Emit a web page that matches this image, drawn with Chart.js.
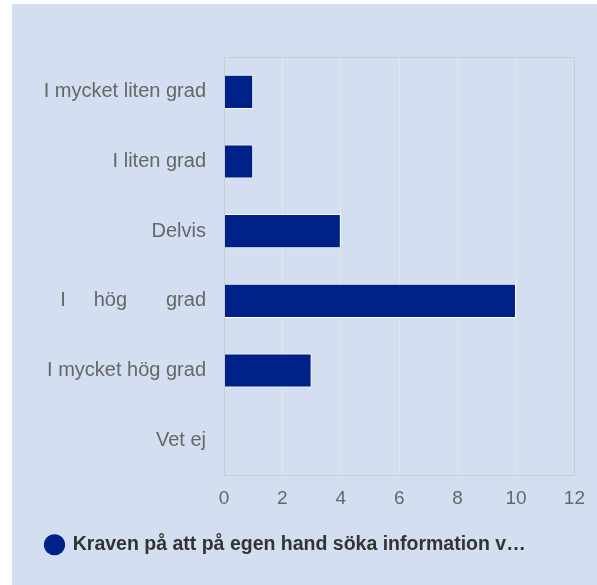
<!DOCTYPE html>
<html>
<head>
<meta charset="utf-8">
<script src="https://cdn.jsdelivr.net/npm/chart.js@4"></script>
<style>
  html, body { margin: 0; padding: 0; background: #ffffff; }
  #wrap { position: absolute; left: 12px; top: 4px; width: 585px; height: 581px; background: #d3dff0; }
</style>
</head>
<body>
<div id="wrap"><canvas id="myChart" width="585" height="581"></canvas></div>
<script>
// data
var categories = ['I mycket liten grad', 'I liten grad', 'Delvis', 'I     hög       grad', 'I mycket hög grad', 'Vet ej'];
var answers = [1, 1, 4, 10, 3, 0];
var seriesLabel = 'Kraven på att på egen hand söka information v…';
var xTicks = [0, 2, 4, 6, 8, 10, 12];

// box around the plot area
var plotBox = {
  id: 'plotBox',
  afterDraw: function(chart) {
    var a = chart.chartArea, ctx = chart.ctx;
    ctx.save();
    ctx.strokeStyle = '#cccccc';
    ctx.lineWidth = 1;
    ctx.strokeRect(Math.round(a.left) + 0.5, Math.round(a.top) + 0.5, Math.round(a.right - a.left), Math.round(a.bottom - a.top));
    ctx.restore();
  }
};

var ctx = document.getElementById('myChart').getContext('2d');
var chart = new Chart(ctx, {
  type: 'bar',
  data: {
    labels: categories,
    datasets: [{
      label: seriesLabel,
      data: answers,
      backgroundColor: '#002288',
      borderColor: '#ffffff',
      borderWidth: 1,
      barPercentage: 0.49,
      categoryPercentage: 1
    }]
  },
  options: {
    indexAxis: 'y',
    responsive: false,
    animation: false,
    layout: { padding: { left: 24, top: 53, right: 22, bottom: 20.5 } },
    scales: {
      x: {
        min: 0,
        max: 12,
        afterBuildTicks: function(scale) {
          scale.ticks = xTicks.map(function(v) { return { value: v }; });
        },
        afterFit: function(scale) { scale.height = 50; },
        grid: { color: '#e6e6e6', drawTicks: false },
        border: { display: false },
        ticks: {
          color: '#666666',
          padding: 12,
          font: { family: 'Liberation Sans, Arial, sans-serif', size: 19 }
        }
      },
      y: {
        afterFit: function(scale) { scale.width = 188; },
        grid: { display: false, drawTicks: false },
        border: { display: false },
        ticks: {
          color: '#666666',
          padding: 18,
          font: { family: 'Liberation Sans, Arial, sans-serif', size: 20 }
        }
      }
    },
    plugins: {
      tooltip: { enabled: false },
      legend: {
        position: 'bottom',
        align: 'start',
        labels: {
          usePointStyle: true,
          pointStyle: 'circle',
          boxWidth: 17,
          boxHeight: 15,
          padding: 10,
          color: '#333333',
          font: { family: 'Liberation Sans, Arial, sans-serif', size: 19.5, weight: 'bold' },
          generateLabels: function(chart) {
            return chart.data.datasets.map(function(ds, i) {
              return {
                text: ds.label,
                fillStyle: ds.backgroundColor,
                strokeStyle: ds.backgroundColor,
                lineWidth: 0,
                pointStyle: 'circle',
                fontColor: '#333333',
                datasetIndex: i
              };
            });
          }
        }
      }
    }
  },
  plugins: [plotBox]
});
</script>
</body>
</html>
